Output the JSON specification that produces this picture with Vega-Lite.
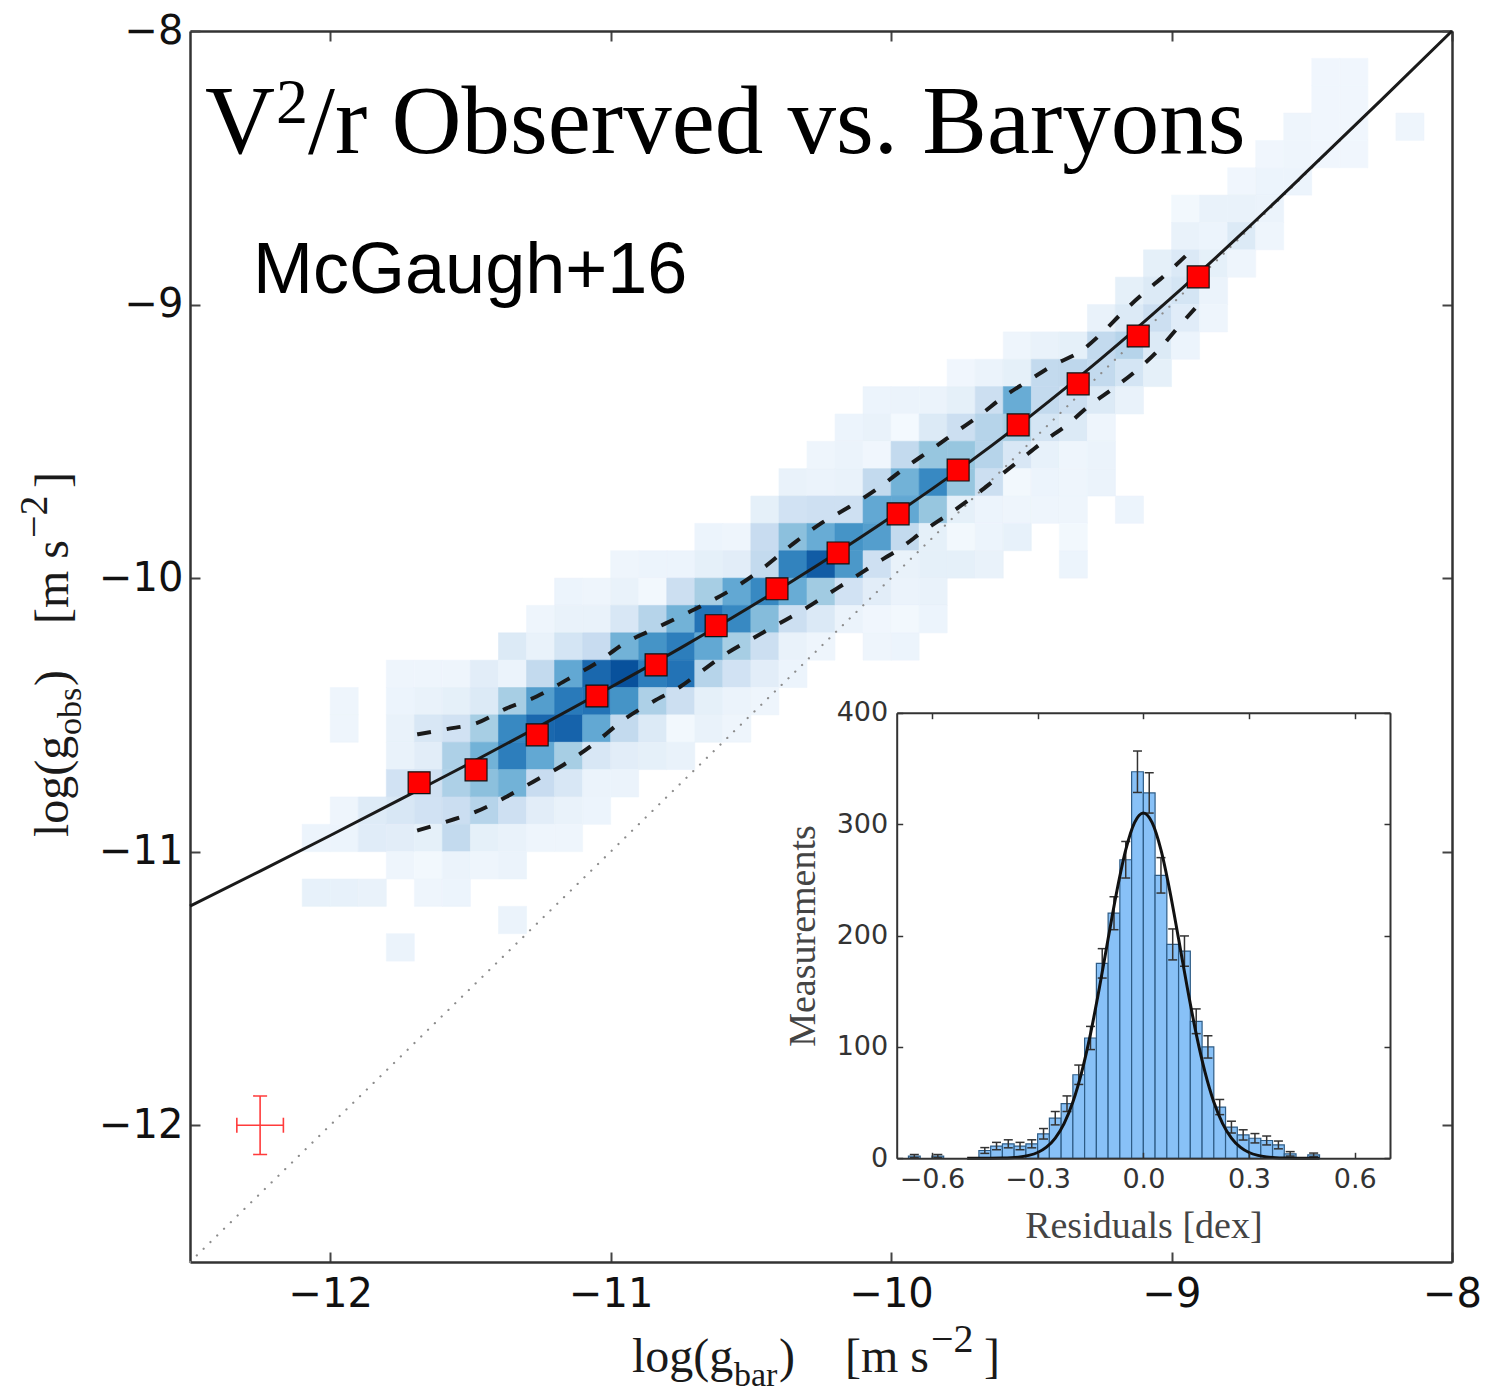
{
"$schema": "https://vega.github.io/schema/vega-lite/v6.json",
"width": 1262, "height": 1231,
"autosize": {"type": "none"},
"padding": {"left": 190, "top": 31, "right": 41, "bottom": 132},
"background": "white",
"config": {"view": {"stroke": null}},
"datasets": {
"heat": [
{"x":-12.1,"xe":-12,"y":-11,"ye":-10.9,"n":0.6},{"x":-12.1,"xe":-12,"y":-11.2,"ye":-11.1,"n":0.9},
{"x":-12,"xe":-11.9,"y":-10.5,"ye":-10.4,"n":0.5},{"x":-12,"xe":-11.9,"y":-10.6,"ye":-10.5,"n":0.5},{"x":-12,"xe":-11.9,"y":-10.9,"ye":-10.8,"n":0.5},{"x":-12,"xe":-11.9,"y":-11,"ye":-10.9,"n":0.6},{"x":-12,"xe":-11.9,"y":-11.2,"ye":-11.1,"n":0.9},
{"x":-11.9,"xe":-11.8,"y":-10.9,"ye":-10.8,"n":1.4},{"x":-11.9,"xe":-11.8,"y":-11,"ye":-10.9,"n":1.3},{"x":-11.9,"xe":-11.8,"y":-11.2,"ye":-11.1,"n":0.8},
{"x":-11.8,"xe":-11.7,"y":-10.4,"ye":-10.3,"n":0.5},{"x":-11.8,"xe":-11.7,"y":-10.5,"ye":-10.4,"n":0.6},{"x":-11.8,"xe":-11.7,"y":-10.6,"ye":-10.5,"n":0.8},{"x":-11.8,"xe":-11.7,"y":-10.7,"ye":-10.6,"n":0.8},{"x":-11.8,"xe":-11.7,"y":-10.8,"ye":-10.7,"n":2.2},{"x":-11.8,"xe":-11.7,"y":-10.9,"ye":-10.8,"n":1.8},{"x":-11.8,"xe":-11.7,"y":-11,"ye":-10.9,"n":1.2},{"x":-11.8,"xe":-11.7,"y":-11.1,"ye":-11,"n":0.5},{"x":-11.8,"xe":-11.7,"y":-11.4,"ye":-11.3,"n":0.7},
{"x":-11.7,"xe":-11.6,"y":-10.4,"ye":-10.3,"n":0.5},{"x":-11.7,"xe":-11.6,"y":-10.5,"ye":-10.4,"n":0.8},{"x":-11.7,"xe":-11.6,"y":-10.6,"ye":-10.5,"n":1.8},{"x":-11.7,"xe":-11.6,"y":-10.7,"ye":-10.6,"n":1.2},{"x":-11.7,"xe":-11.6,"y":-10.8,"ye":-10.7,"n":2.3},{"x":-11.7,"xe":-11.6,"y":-10.9,"ye":-10.8,"n":2.2},{"x":-11.7,"xe":-11.6,"y":-11,"ye":-10.9,"n":1.0},{"x":-11.7,"xe":-11.6,"y":-11.1,"ye":-11,"n":0.3},{"x":-11.7,"xe":-11.6,"y":-11.2,"ye":-11.1,"n":0.5},
{"x":-11.6,"xe":-11.5,"y":-10.4,"ye":-10.3,"n":0.5},{"x":-11.6,"xe":-11.5,"y":-10.5,"ye":-10.4,"n":1.0},{"x":-11.6,"xe":-11.5,"y":-10.6,"ye":-10.5,"n":2.2},{"x":-11.6,"xe":-11.5,"y":-10.7,"ye":-10.6,"n":3.8},{"x":-11.6,"xe":-11.5,"y":-10.8,"ye":-10.7,"n":3.8},{"x":-11.6,"xe":-11.5,"y":-10.9,"ye":-10.8,"n":2.6},{"x":-11.6,"xe":-11.5,"y":-11,"ye":-10.9,"n":3.0},{"x":-11.6,"xe":-11.5,"y":-11.1,"ye":-11,"n":0.7},{"x":-11.6,"xe":-11.5,"y":-11.2,"ye":-11.1,"n":0.6},
{"x":-11.5,"xe":-11.4,"y":-10.4,"ye":-10.3,"n":1.2},{"x":-11.5,"xe":-11.4,"y":-10.5,"ye":-10.4,"n":1.5},{"x":-11.5,"xe":-11.4,"y":-10.6,"ye":-10.5,"n":4.0},{"x":-11.5,"xe":-11.4,"y":-10.7,"ye":-10.6,"n":5.5},{"x":-11.5,"xe":-11.4,"y":-10.8,"ye":-10.7,"n":4.8},{"x":-11.5,"xe":-11.4,"y":-10.9,"ye":-10.8,"n":3.5},{"x":-11.5,"xe":-11.4,"y":-11,"ye":-10.9,"n":1.0},{"x":-11.5,"xe":-11.4,"y":-11.1,"ye":-11,"n":0.5},
{"x":-11.4,"xe":-11.3,"y":-10.3,"ye":-10.2,"n":1.5},{"x":-11.4,"xe":-11.3,"y":-10.4,"ye":-10.3,"n":0.7},{"x":-11.4,"xe":-11.3,"y":-10.5,"ye":-10.4,"n":4.0},{"x":-11.4,"xe":-11.3,"y":-10.6,"ye":-10.5,"n":7.5},{"x":-11.4,"xe":-11.3,"y":-10.7,"ye":-10.6,"n":8.0},{"x":-11.4,"xe":-11.3,"y":-10.8,"ye":-10.7,"n":5.5},{"x":-11.4,"xe":-11.3,"y":-10.9,"ye":-10.8,"n":2.4},{"x":-11.4,"xe":-11.3,"y":-11,"ye":-10.9,"n":0.8},{"x":-11.4,"xe":-11.3,"y":-11.1,"ye":-11,"n":0.7},{"x":-11.4,"xe":-11.3,"y":-11.3,"ye":-11.2,"n":0.7},
{"x":-11.3,"xe":-11.2,"y":-10.2,"ye":-10.1,"n":0.5},{"x":-11.3,"xe":-11.2,"y":-10.3,"ye":-10.2,"n":0.8},{"x":-11.3,"xe":-11.2,"y":-10.4,"ye":-10.3,"n":3.0},{"x":-11.3,"xe":-11.2,"y":-10.5,"ye":-10.4,"n":6.5},{"x":-11.3,"xe":-11.2,"y":-10.6,"ye":-10.5,"n":9.0},{"x":-11.3,"xe":-11.2,"y":-10.7,"ye":-10.6,"n":6.0},{"x":-11.3,"xe":-11.2,"y":-10.8,"ye":-10.7,"n":2.8},{"x":-11.3,"xe":-11.2,"y":-10.9,"ye":-10.8,"n":1.2},{"x":-11.3,"xe":-11.2,"y":-11,"ye":-10.9,"n":0.5},
{"x":-11.2,"xe":-11.1,"y":-10.1,"ye":-10,"n":0.6},{"x":-11.2,"xe":-11.1,"y":-10.2,"ye":-10.1,"n":0.8},{"x":-11.2,"xe":-11.1,"y":-10.3,"ye":-10.2,"n":2.0},{"x":-11.2,"xe":-11.1,"y":-10.4,"ye":-10.3,"n":6.0},{"x":-11.2,"xe":-11.1,"y":-10.5,"ye":-10.4,"n":8.2},{"x":-11.2,"xe":-11.1,"y":-10.6,"ye":-10.5,"n":9.2},{"x":-11.2,"xe":-11.1,"y":-10.7,"ye":-10.6,"n":4.0},{"x":-11.2,"xe":-11.1,"y":-10.8,"ye":-10.7,"n":1.8},{"x":-11.2,"xe":-11.1,"y":-10.9,"ye":-10.8,"n":0.8},{"x":-11.2,"xe":-11.1,"y":-11,"ye":-10.9,"n":0.5},
{"x":-11.1,"xe":-11,"y":-10.1,"ye":-10,"n":0.5},{"x":-11.1,"xe":-11,"y":-10.2,"ye":-10.1,"n":0.8},{"x":-11.1,"xe":-11,"y":-10.3,"ye":-10.2,"n":2.8},{"x":-11.1,"xe":-11,"y":-10.4,"ye":-10.3,"n":9.0},{"x":-11.1,"xe":-11,"y":-10.5,"ye":-10.4,"n":8.5},{"x":-11.1,"xe":-11,"y":-10.6,"ye":-10.5,"n":6.0},{"x":-11.1,"xe":-11,"y":-10.7,"ye":-10.6,"n":1.8},{"x":-11.1,"xe":-11,"y":-10.8,"ye":-10.7,"n":0.7},{"x":-11.1,"xe":-11,"y":-10.9,"ye":-10.8,"n":0.6},
{"x":-11,"xe":-10.9,"y":-10,"ye":-9.9,"n":0.5},{"x":-11,"xe":-10.9,"y":-10.1,"ye":-10,"n":0.8},{"x":-11,"xe":-10.9,"y":-10.2,"ye":-10.1,"n":1.8},{"x":-11,"xe":-10.9,"y":-10.3,"ye":-10.2,"n":5.5},{"x":-11,"xe":-10.9,"y":-10.4,"ye":-10.3,"n":10},{"x":-11,"xe":-10.9,"y":-10.5,"ye":-10.4,"n":7.0},{"x":-11,"xe":-10.9,"y":-10.6,"ye":-10.5,"n":3.0},{"x":-11,"xe":-10.9,"y":-10.7,"ye":-10.6,"n":1.2},{"x":-11,"xe":-10.9,"y":-10.8,"ye":-10.7,"n":0.7},
{"x":-10.9,"xe":-10.8,"y":-10,"ye":-9.9,"n":0.6},{"x":-10.9,"xe":-10.8,"y":-10.1,"ye":-10,"n":0.3},{"x":-10.9,"xe":-10.8,"y":-10.2,"ye":-10.1,"n":3.5},{"x":-10.9,"xe":-10.8,"y":-10.3,"ye":-10.2,"n":7.0},{"x":-10.9,"xe":-10.8,"y":-10.4,"ye":-10.3,"n":8.0},{"x":-10.9,"xe":-10.8,"y":-10.5,"ye":-10.4,"n":3.8},{"x":-10.9,"xe":-10.8,"y":-10.6,"ye":-10.5,"n":1.5},{"x":-10.9,"xe":-10.8,"y":-10.7,"ye":-10.6,"n":1.0},
{"x":-10.8,"xe":-10.7,"y":-10,"ye":-9.9,"n":0.6},{"x":-10.8,"xe":-10.7,"y":-10.1,"ye":-10,"n":2.5},{"x":-10.8,"xe":-10.7,"y":-10.2,"ye":-10.1,"n":5.5},{"x":-10.8,"xe":-10.7,"y":-10.3,"ye":-10.2,"n":8.0},{"x":-10.8,"xe":-10.7,"y":-10.4,"ye":-10.3,"n":8.5},{"x":-10.8,"xe":-10.7,"y":-10.5,"ye":-10.4,"n":2.5},{"x":-10.8,"xe":-10.7,"y":-10.6,"ye":-10.5,"n":0.3},{"x":-10.8,"xe":-10.7,"y":-10.7,"ye":-10.6,"n":0.8},
{"x":-10.7,"xe":-10.6,"y":-9.9,"ye":-9.8,"n":0.6},{"x":-10.7,"xe":-10.6,"y":-10,"ye":-9.9,"n":1.0},{"x":-10.7,"xe":-10.6,"y":-10.1,"ye":-10,"n":4.0},{"x":-10.7,"xe":-10.6,"y":-10.2,"ye":-10.1,"n":8.5},{"x":-10.7,"xe":-10.6,"y":-10.3,"ye":-10.2,"n":6.0},{"x":-10.7,"xe":-10.6,"y":-10.4,"ye":-10.3,"n":3.5},{"x":-10.7,"xe":-10.6,"y":-10.5,"ye":-10.4,"n":1.0},{"x":-10.7,"xe":-10.6,"y":-10.6,"ye":-10.5,"n":0.8},
{"x":-10.6,"xe":-10.5,"y":-9.9,"ye":-9.8,"n":0.5},{"x":-10.6,"xe":-10.5,"y":-10,"ye":-9.9,"n":1.2},{"x":-10.6,"xe":-10.5,"y":-10.1,"ye":-10,"n":6.0},{"x":-10.6,"xe":-10.5,"y":-10.2,"ye":-10.1,"n":7.5},{"x":-10.6,"xe":-10.5,"y":-10.3,"ye":-10.2,"n":4.0},{"x":-10.6,"xe":-10.5,"y":-10.4,"ye":-10.3,"n":2.2},{"x":-10.6,"xe":-10.5,"y":-10.5,"ye":-10.4,"n":0.7},{"x":-10.6,"xe":-10.5,"y":-10.6,"ye":-10.5,"n":0.5},
{"x":-10.5,"xe":-10.4,"y":-9.8,"ye":-9.7,"n":1.0},{"x":-10.5,"xe":-10.4,"y":-9.9,"ye":-9.8,"n":2.8},{"x":-10.5,"xe":-10.4,"y":-10,"ye":-9.9,"n":3.0},{"x":-10.5,"xe":-10.4,"y":-10.1,"ye":-10,"n":7.5},{"x":-10.5,"xe":-10.4,"y":-10.2,"ye":-10.1,"n":5.0},{"x":-10.5,"xe":-10.4,"y":-10.3,"ye":-10.2,"n":2.5},{"x":-10.5,"xe":-10.4,"y":-10.4,"ye":-10.3,"n":1.2},{"x":-10.5,"xe":-10.4,"y":-10.5,"ye":-10.4,"n":0.5},
{"x":-10.4,"xe":-10.3,"y":-9.7,"ye":-9.6,"n":0.8},{"x":-10.4,"xe":-10.3,"y":-9.8,"ye":-9.7,"n":2.2},{"x":-10.4,"xe":-10.3,"y":-9.9,"ye":-9.8,"n":4.8},{"x":-10.4,"xe":-10.3,"y":-10,"ye":-9.9,"n":7.8},{"x":-10.4,"xe":-10.3,"y":-10.1,"ye":-10,"n":5.8},{"x":-10.4,"xe":-10.3,"y":-10.2,"ye":-10.1,"n":2.5},{"x":-10.4,"xe":-10.3,"y":-10.3,"ye":-10.2,"n":0.8},{"x":-10.4,"xe":-10.3,"y":-10.4,"ye":-10.3,"n":0.6},
{"x":-10.3,"xe":-10.2,"y":-9.6,"ye":-9.5,"n":0.5},{"x":-10.3,"xe":-10.2,"y":-9.7,"ye":-9.6,"n":0.7},{"x":-10.3,"xe":-10.2,"y":-9.8,"ye":-9.7,"n":2.4},{"x":-10.3,"xe":-10.2,"y":-9.9,"ye":-9.8,"n":5.8},{"x":-10.3,"xe":-10.2,"y":-10,"ye":-9.9,"n":9.5},{"x":-10.3,"xe":-10.2,"y":-10.1,"ye":-10,"n":4.2},{"x":-10.3,"xe":-10.2,"y":-10.2,"ye":-10.1,"n":1.6},{"x":-10.3,"xe":-10.2,"y":-10.3,"ye":-10.2,"n":0.5},
{"x":-10.2,"xe":-10.1,"y":-9.5,"ye":-9.4,"n":0.6},{"x":-10.2,"xe":-10.1,"y":-9.6,"ye":-9.5,"n":0.7},{"x":-10.2,"xe":-10.1,"y":-9.7,"ye":-9.6,"n":0.8},{"x":-10.2,"xe":-10.1,"y":-9.8,"ye":-9.7,"n":2.4},{"x":-10.2,"xe":-10.1,"y":-9.9,"ye":-9.8,"n":7.0},{"x":-10.2,"xe":-10.1,"y":-10,"ye":-9.9,"n":6.8},{"x":-10.2,"xe":-10.1,"y":-10.1,"ye":-10,"n":2.2},{"x":-10.2,"xe":-10.1,"y":-10.2,"ye":-10.1,"n":0.7},
{"x":-10.1,"xe":-10,"y":-9.4,"ye":-9.3,"n":0.6},{"x":-10.1,"xe":-10,"y":-9.5,"ye":-9.4,"n":0.8},{"x":-10.1,"xe":-10,"y":-9.6,"ye":-9.5,"n":0.4},{"x":-10.1,"xe":-10,"y":-9.7,"ye":-9.6,"n":3.0},{"x":-10.1,"xe":-10,"y":-9.8,"ye":-9.7,"n":6.0},{"x":-10.1,"xe":-10,"y":-9.9,"ye":-9.8,"n":6.5},{"x":-10.1,"xe":-10,"y":-10,"ye":-9.9,"n":2.4},{"x":-10.1,"xe":-10,"y":-10.1,"ye":-10,"n":1.2},{"x":-10.1,"xe":-10,"y":-10.2,"ye":-10.1,"n":0.4},{"x":-10.1,"xe":-10,"y":-10.3,"ye":-10.2,"n":0.5},
{"x":-10,"xe":-9.9,"y":-9.4,"ye":-9.3,"n":0.7},{"x":-10,"xe":-9.9,"y":-9.5,"ye":-9.4,"n":0.2},{"x":-10,"xe":-9.9,"y":-9.6,"ye":-9.5,"n":3.0},{"x":-10,"xe":-9.9,"y":-9.7,"ye":-9.6,"n":5.5},{"x":-10,"xe":-9.9,"y":-9.8,"ye":-9.7,"n":6.0},{"x":-10,"xe":-9.9,"y":-9.9,"ye":-9.8,"n":3.0},{"x":-10,"xe":-9.9,"y":-10,"ye":-9.9,"n":0.8},{"x":-10,"xe":-9.9,"y":-10.1,"ye":-10,"n":0.7},{"x":-10,"xe":-9.9,"y":-10.2,"ye":-10.1,"n":0.3},{"x":-10,"xe":-9.9,"y":-10.3,"ye":-10.2,"n":0.6},
{"x":-9.9,"xe":-9.8,"y":-9.4,"ye":-9.3,"n":0.7},{"x":-9.9,"xe":-9.8,"y":-9.5,"ye":-9.4,"n":1.5},{"x":-9.9,"xe":-9.8,"y":-9.6,"ye":-9.5,"n":4.5},{"x":-9.9,"xe":-9.8,"y":-9.7,"ye":-9.6,"n":7.5},{"x":-9.9,"xe":-9.8,"y":-9.8,"ye":-9.7,"n":4.5},{"x":-9.9,"xe":-9.8,"y":-9.9,"ye":-9.8,"n":1.0},{"x":-9.9,"xe":-9.8,"y":-10,"ye":-9.9,"n":1.0},{"x":-9.9,"xe":-9.8,"y":-10.1,"ye":-10,"n":0.8},{"x":-9.9,"xe":-9.8,"y":-10.2,"ye":-10.1,"n":0.6},
{"x":-9.8,"xe":-9.7,"y":-9.3,"ye":-9.2,"n":0.4},{"x":-9.8,"xe":-9.7,"y":-9.4,"ye":-9.3,"n":1.0},{"x":-9.8,"xe":-9.7,"y":-9.5,"ye":-9.4,"n":2.5},{"x":-9.8,"xe":-9.7,"y":-9.6,"ye":-9.5,"n":4.5},{"x":-9.8,"xe":-9.7,"y":-9.7,"ye":-9.6,"n":4.5},{"x":-9.8,"xe":-9.7,"y":-9.8,"ye":-9.7,"n":1.0},{"x":-9.8,"xe":-9.7,"y":-9.9,"ye":-9.8,"n":0.3},{"x":-9.8,"xe":-9.7,"y":-10,"ye":-9.9,"n":1.0},
{"x":-9.7,"xe":-9.6,"y":-9.3,"ye":-9.2,"n":0.7},{"x":-9.7,"xe":-9.6,"y":-9.4,"ye":-9.3,"n":2.5},{"x":-9.7,"xe":-9.6,"y":-9.5,"ye":-9.4,"n":3.5},{"x":-9.7,"xe":-9.6,"y":-9.6,"ye":-9.5,"n":3.5},{"x":-9.7,"xe":-9.6,"y":-9.7,"ye":-9.6,"n":2.5},{"x":-9.7,"xe":-9.6,"y":-9.8,"ye":-9.7,"n":0.6},{"x":-9.7,"xe":-9.6,"y":-9.9,"ye":-9.8,"n":0.6},{"x":-9.7,"xe":-9.6,"y":-10,"ye":-9.9,"n":0.8},
{"x":-9.6,"xe":-9.5,"y":-9.2,"ye":-9.1,"n":0.5},{"x":-9.6,"xe":-9.5,"y":-9.3,"ye":-9.2,"n":1.0},{"x":-9.6,"xe":-9.5,"y":-9.4,"ye":-9.3,"n":5.8},{"x":-9.6,"xe":-9.5,"y":-9.5,"ye":-9.4,"n":4.0},{"x":-9.6,"xe":-9.5,"y":-9.6,"ye":-9.5,"n":1.8},{"x":-9.6,"xe":-9.5,"y":-9.7,"ye":-9.6,"n":0.3},{"x":-9.6,"xe":-9.5,"y":-9.8,"ye":-9.7,"n":0.5},{"x":-9.6,"xe":-9.5,"y":-9.9,"ye":-9.8,"n":0.9},
{"x":-9.5,"xe":-9.4,"y":-9.2,"ye":-9.1,"n":0.8},{"x":-9.5,"xe":-9.4,"y":-9.3,"ye":-9.2,"n":3.0},{"x":-9.5,"xe":-9.4,"y":-9.4,"ye":-9.3,"n":3.0},{"x":-9.5,"xe":-9.4,"y":-9.5,"ye":-9.4,"n":2.0},{"x":-9.5,"xe":-9.4,"y":-9.6,"ye":-9.5,"n":0.9},{"x":-9.5,"xe":-9.4,"y":-9.7,"ye":-9.6,"n":0.6},{"x":-9.5,"xe":-9.4,"y":-9.8,"ye":-9.7,"n":0.5},
{"x":-9.4,"xe":-9.3,"y":-9.2,"ye":-9.1,"n":1.0},{"x":-9.4,"xe":-9.3,"y":-9.3,"ye":-9.2,"n":3.2},{"x":-9.4,"xe":-9.3,"y":-9.4,"ye":-9.3,"n":2.5},{"x":-9.4,"xe":-9.3,"y":-9.5,"ye":-9.4,"n":1.5},{"x":-9.4,"xe":-9.3,"y":-9.6,"ye":-9.5,"n":0.5},{"x":-9.4,"xe":-9.3,"y":-9.7,"ye":-9.6,"n":0.5},{"x":-9.4,"xe":-9.3,"y":-9.8,"ye":-9.7,"n":0.5},{"x":-9.4,"xe":-9.3,"y":-9.9,"ye":-9.8,"n":0.3},{"x":-9.4,"xe":-9.3,"y":-10,"ye":-9.9,"n":0.6},
{"x":-9.3,"xe":-9.2,"y":-9.1,"ye":-9,"n":0.8},{"x":-9.3,"xe":-9.2,"y":-9.2,"ye":-9.1,"n":3.0},{"x":-9.3,"xe":-9.2,"y":-9.3,"ye":-9.2,"n":3.0},{"x":-9.3,"xe":-9.2,"y":-9.4,"ye":-9.3,"n":1.5},{"x":-9.3,"xe":-9.2,"y":-9.5,"ye":-9.4,"n":0.5},{"x":-9.3,"xe":-9.2,"y":-9.6,"ye":-9.5,"n":0.7},{"x":-9.3,"xe":-9.2,"y":-9.7,"ye":-9.6,"n":0.7},
{"x":-9.2,"xe":-9.1,"y":-9,"ye":-8.9,"n":1.0},{"x":-9.2,"xe":-9.1,"y":-9.1,"ye":-9,"n":1.5},{"x":-9.2,"xe":-9.1,"y":-9.2,"ye":-9.1,"n":3.5},{"x":-9.2,"xe":-9.1,"y":-9.3,"ye":-9.2,"n":2.0},{"x":-9.2,"xe":-9.1,"y":-9.4,"ye":-9.3,"n":0.8},{"x":-9.2,"xe":-9.1,"y":-9.8,"ye":-9.7,"n":0.6},
{"x":-9.1,"xe":-9,"y":-8.9,"ye":-8.8,"n":1.0},{"x":-9.1,"xe":-9,"y":-9,"ye":-8.9,"n":1.5},{"x":-9.1,"xe":-9,"y":-9.1,"ye":-9,"n":2.5},{"x":-9.1,"xe":-9,"y":-9.2,"ye":-9.1,"n":1.5},{"x":-9.1,"xe":-9,"y":-9.3,"ye":-9.2,"n":1.0},
{"x":-9,"xe":-8.9,"y":-8.7,"ye":-8.6,"n":0.3},{"x":-9,"xe":-8.9,"y":-8.8,"ye":-8.7,"n":0.8},{"x":-9,"xe":-8.9,"y":-8.9,"ye":-8.8,"n":1.6},{"x":-9,"xe":-8.9,"y":-9,"ye":-8.9,"n":2.0},{"x":-9,"xe":-8.9,"y":-9.1,"ye":-9,"n":1.3},{"x":-9,"xe":-8.9,"y":-9.2,"ye":-9.1,"n":0.6},
{"x":-8.9,"xe":-8.8,"y":-8.7,"ye":-8.6,"n":0.8},{"x":-8.9,"xe":-8.8,"y":-8.8,"ye":-8.7,"n":0.6},{"x":-8.9,"xe":-8.8,"y":-8.9,"ye":-8.8,"n":1.0},{"x":-8.9,"xe":-8.8,"y":-9,"ye":-8.9,"n":0.7},{"x":-8.9,"xe":-8.8,"y":-9.1,"ye":-9,"n":0.5},
{"x":-8.8,"xe":-8.7,"y":-8.6,"ye":-8.5,"n":0.4},{"x":-8.8,"xe":-8.7,"y":-8.7,"ye":-8.6,"n":0.8},{"x":-8.8,"xe":-8.7,"y":-8.8,"ye":-8.7,"n":1.5},{"x":-8.8,"xe":-8.7,"y":-8.9,"ye":-8.8,"n":0.5},
{"x":-8.7,"xe":-8.6,"y":-8.5,"ye":-8.4,"n":0.4},{"x":-8.7,"xe":-8.6,"y":-8.6,"ye":-8.5,"n":0.6},{"x":-8.7,"xe":-8.6,"y":-8.7,"ye":-8.6,"n":0.7},{"x":-8.7,"xe":-8.6,"y":-8.8,"ye":-8.7,"n":0.5},
{"x":-8.6,"xe":-8.5,"y":-8.4,"ye":-8.3,"n":0.5},{"x":-8.6,"xe":-8.5,"y":-8.5,"ye":-8.4,"n":0.5},{"x":-8.6,"xe":-8.5,"y":-8.6,"ye":-8.5,"n":0.6},
{"x":-8.5,"xe":-8.4,"y":-8.2,"ye":-8.1,"n":0.4},{"x":-8.5,"xe":-8.4,"y":-8.3,"ye":-8.2,"n":0.4},{"x":-8.5,"xe":-8.4,"y":-8.4,"ye":-8.3,"n":0.4},{"x":-8.5,"xe":-8.4,"y":-8.5,"ye":-8.4,"n":0.4},
{"x":-8.4,"xe":-8.3,"y":-8.2,"ye":-8.1,"n":0.4},{"x":-8.4,"xe":-8.3,"y":-8.3,"ye":-8.2,"n":0.4},{"x":-8.4,"xe":-8.3,"y":-8.4,"ye":-8.3,"n":0.4},{"x":-8.4,"xe":-8.3,"y":-8.5,"ye":-8.4,"n":0.4},
{"x":-8.2,"xe":-8.1,"y":-8.4,"ye":-8.3,"n":0.5}
],
"one2one": [{"x":-12.5,"y":-12.5},{"x":-8,"y":-8}],
"rar": [{"x":-12.5,"y":-11.199},{"x":-12.25,"y":-11.071},{"x":-12,"y":-10.941},{"x":-11.75,"y":-10.809},{"x":-11.5,"y":-10.676},{"x":-11.25,"y":-10.539},{"x":-11,"y":-10.399},{"x":-10.75,"y":-10.255},{"x":-10.5,"y":-10.104},{"x":-10.25,"y":-9.945},{"x":-10,"y":-9.777},{"x":-9.75,"y":-9.598},{"x":-9.5,"y":-9.405},{"x":-9.25,"y":-9.197},{"x":-9,"y":-8.975},{"x":-8.75,"y":-8.741},{"x":-8.5,"y":-8.497},{"x":-8.25,"y":-8.25},{"x":-8,"y":-8}],
"dashed": [
{"s":"up","x":-11.69,"y":-10.571},{"s":"up","x":-11.585,"y":-10.552},{"s":"up","x":-11.478,"y":-10.53},{"s":"up","x":-11.371,"y":-10.476},{"s":"up","x":-11.264,"y":-10.433},{"s":"up","x":-11.157,"y":-10.372},{"s":"up","x":-11.05,"y":-10.31},{"s":"up","x":-10.95,"y":-10.238},{"s":"up","x":-10.85,"y":-10.188},{"s":"up","x":-10.75,"y":-10.139},{"s":"up","x":-10.65,"y":-10.088},{"s":"up","x":-10.55,"y":-10.03},{"s":"up","x":-10.45,"y":-9.958},{"s":"up","x":-10.35,"y":-9.875},{"s":"up","x":-10.25,"y":-9.8},{"s":"up","x":-10.15,"y":-9.74},{"s":"up","x":-10.05,"y":-9.674},{"s":"up","x":-9.944,"y":-9.592},{"s":"up","x":-9.849,"y":-9.525},{"s":"up","x":-9.766,"y":-9.464},{"s":"up","x":-9.683,"y":-9.404},{"s":"up","x":-9.599,"y":-9.337},{"s":"up","x":-9.516,"y":-9.282},{"s":"up","x":-9.421,"y":-9.221},{"s":"up","x":-9.326,"y":-9.172},{"s":"up","x":-9.243,"y":-9.099},{"s":"up","x":-9.172,"y":-9.026},{"s":"up","x":-9.1,"y":-8.959},{"s":"up","x":-9.017,"y":-8.886},{"s":"up","x":-8.934,"y":-8.807},
{"s":"lo","x":-11.69,"y":-10.923},{"s":"lo","x":-11.585,"y":-10.89},{"s":"lo","x":-11.478,"y":-10.853},{"s":"lo","x":-11.371,"y":-10.799},{"s":"lo","x":-11.276,"y":-10.744},{"s":"lo","x":-11.169,"y":-10.683},{"s":"lo","x":-11.073,"y":-10.616},{"s":"lo","x":-10.943,"y":-10.51},{"s":"lo","x":-10.848,"y":-10.451},{"s":"lo","x":-10.752,"y":-10.397},{"s":"lo","x":-10.669,"y":-10.335},{"s":"lo","x":-10.586,"y":-10.275},{"s":"lo","x":-10.503,"y":-10.226},{"s":"lo","x":-10.408,"y":-10.171},{"s":"lo","x":-10.313,"y":-10.116},{"s":"lo","x":-10.229,"y":-10.061},{"s":"lo","x":-10.146,"y":-10.007},{"s":"lo","x":-10.063,"y":-9.952},{"s":"lo","x":-9.968,"y":-9.891},{"s":"lo","x":-9.879,"y":-9.824},{"s":"lo","x":-9.79,"y":-9.763},{"s":"lo","x":-9.706,"y":-9.702},{"s":"lo","x":-9.623,"y":-9.635},{"s":"lo","x":-9.54,"y":-9.568},{"s":"lo","x":-9.457,"y":-9.501},{"s":"lo","x":-9.373,"y":-9.44},{"s":"lo","x":-9.29,"y":-9.367},{"s":"lo","x":-9.207,"y":-9.306},{"s":"lo","x":-9.13,"y":-9.245},{"s":"lo","x":-9.05,"y":-9.17},{"s":"lo","x":-8.975,"y":-9.081},{"s":"lo","x":-8.916,"y":-9.014}
],
"squares": [{"x":-11.683,"y":-10.748},{"x":-11.48,"y":-10.701},{"x":-11.262,"y":-10.573},{"x":-11.049,"y":-10.431},{"x":-10.838,"y":-10.317},{"x":-10.624,"y":-10.174},{"x":-10.407,"y":-10.039},{"x":-10.189,"y":-9.908},{"x":-9.975,"y":-9.765},{"x":-9.761,"y":-9.605},{"x":-9.547,"y":-9.44},{"x":-9.333,"y":-9.29},{"x":-9.119,"y":-9.115},{"x":-8.905,"y":-8.899}],
"cross": [{"seg":"h","x":-12.333,"y":-12},{"seg":"h","x":-12.167,"y":-12},{"seg":"v","x":-12.25,"y":-12.107},{"seg":"v","x":-12.25,"y":-11.893}],
"capsV": [{"x":-12.333,"y":-12},{"x":-12.167,"y":-12}],
"capsH": [{"x":-12.25,"y":-12.107},{"x":-12.25,"y":-11.893}],
"titleMain": [{"t":"V","x":-12.4465,"y":-8.446},{"t":"/r Observed vs. Baryons","x":-12.0792,"y":-8.446}],
"titleSup": [{"t":"2","x":-12.1933,"y":-8.446}],
"mcg": [{"t":"McGaugh+16","x":-12.275,"y":-8.958}],
"xtMain": [{"t":"log(g","x":-10.9239,"y":-12.902},{"t":")","x":-10.3997,"y":-12.902},{"t":"[m s","x":-10.1644,"y":-12.902},{"t":"]","x":-9.6688,"y":-12.902}],
"xtSub": [{"t":"bar","x":-10.5602,"y":-12.902}],
"xtSup": [{"t":"−2","x":-9.8577,"y":-12.902}],
"ytMain": [{"t":"log(g","x":-12.935,"y":-10.9463},{"t":")","x":-12.935,"y":-10.3944},{"t":"[m s","x":-12.935,"y":-10.1677},{"t":"]","x":-12.935,"y":-9.6706}],
"ytSub": [{"t":"obs","x":-12.935,"y":-10.5735}],
"ytSup": [{"t":"−2","x":-12.935,"y":-9.8533}],
"hist": [
{"x":-0.6667,"xe":-0.6333,"c":-0.65,"y":2,"lo":0.6,"hi":3.4},
{"x":-0.6,"xe":-0.5667,"c":-0.5833,"y":2,"lo":0.6,"hi":3.4},
{"x":-0.4667,"xe":-0.4333,"c":-0.45,"y":7,"lo":4.4,"hi":9.6},
{"x":-0.4333,"xe":-0.4,"c":-0.4167,"y":11,"lo":7.7,"hi":14.3},
{"x":-0.4,"xe":-0.3667,"c":-0.3833,"y":13,"lo":9.4,"hi":16.6},
{"x":-0.3667,"xe":-0.3333,"c":-0.35,"y":11,"lo":7.7,"hi":14.3},
{"x":-0.3333,"xe":-0.3,"c":-0.3167,"y":13,"lo":9.4,"hi":16.6},
{"x":-0.3,"xe":-0.2667,"c":-0.2833,"y":22,"lo":17.3,"hi":26.7},
{"x":-0.2667,"xe":-0.2333,"c":-0.25,"y":36,"lo":30,"hi":42},
{"x":-0.2333,"xe":-0.2,"c":-0.2167,"y":49,"lo":42,"hi":56},
{"x":-0.2,"xe":-0.1667,"c":-0.1833,"y":75,"lo":66.3,"hi":83.7},
{"x":-0.1667,"xe":-0.1333,"c":-0.15,"y":108,"lo":97.6,"hi":118.4},
{"x":-0.1333,"xe":-0.1,"c":-0.1167,"y":175,"lo":161.8,"hi":188.2},
{"x":-0.1,"xe":-0.0667,"c":-0.0833,"y":220,"lo":205.2,"hi":234.8},
{"x":-0.0667,"xe":-0.0333,"c":-0.05,"y":268,"lo":251.6,"hi":284.4},
{"x":-0.0333,"xe":0,"c":-0.0167,"y":347,"lo":328.4,"hi":365.6},
{"x":0,"xe":0.0333,"c":0.0167,"y":328,"lo":309.9,"hi":346.1},
{"x":0.0333,"xe":0.0667,"c":0.05,"y":254,"lo":238.1,"hi":269.9},
{"x":0.0667,"xe":0.1,"c":0.0833,"y":192,"lo":178.1,"hi":205.9},
{"x":0.1,"xe":0.1333,"c":0.1167,"y":186,"lo":172.4,"hi":199.6},
{"x":0.1333,"xe":0.1667,"c":0.15,"y":123,"lo":111.9,"hi":134.1},
{"x":0.1667,"xe":0.2,"c":0.1833,"y":100,"lo":90,"hi":110},
{"x":0.2,"xe":0.2333,"c":0.2167,"y":46,"lo":39.2,"hi":52.8},
{"x":0.2333,"xe":0.2667,"c":0.25,"y":28,"lo":22.7,"hi":33.3},
{"x":0.2667,"xe":0.3,"c":0.2833,"y":21,"lo":16.4,"hi":25.6},
{"x":0.3,"xe":0.3333,"c":0.3167,"y":18,"lo":13.8,"hi":22.2},
{"x":0.3333,"xe":0.3667,"c":0.35,"y":16,"lo":12,"hi":20},
{"x":0.3667,"xe":0.4,"c":0.3833,"y":12,"lo":8.5,"hi":15.5},
{"x":0.4,"xe":0.4333,"c":0.4167,"y":4,"lo":2,"hi":6},
{"x":0.4667,"xe":0.5,"c":0.4833,"y":3,"lo":1.3,"hi":4.7}
],
"gauss": [{"x":-0.5,"y":0},{"x":-0.45,"y":0.03},{"x":-0.4,"y":0.2},{"x":-0.375,"y":0.5},{"x":-0.35,"y":1.2},{"x":-0.325,"y":2.6},{"x":-0.3,"y":5.2},{"x":-0.275,"y":10},{"x":-0.25,"y":18.2},{"x":-0.225,"y":31.2},{"x":-0.2,"y":50.5},{"x":-0.175,"y":77.3},{"x":-0.15,"y":111.7},{"x":-0.125,"y":152.6},{"x":-0.1,"y":197},{"x":-0.075,"y":240.2},{"x":-0.05,"y":276.8},{"x":-0.025,"y":301.3},{"x":0,"y":310},{"x":0.025,"y":301.3},{"x":0.05,"y":276.8},{"x":0.075,"y":240.2},{"x":0.1,"y":197},{"x":0.125,"y":152.6},{"x":0.15,"y":111.7},{"x":0.175,"y":77.3},{"x":0.2,"y":50.5},{"x":0.225,"y":31.2},{"x":0.25,"y":18.2},{"x":0.275,"y":10},{"x":0.3,"y":5.2},{"x":0.325,"y":2.6},{"x":0.35,"y":1.2},{"x":0.375,"y":0.5},{"x":0.4,"y":0.2},{"x":0.45,"y":0.03},{"x":0.5,"y":0}]
},
"resolve": {"scale": {"x": "independent", "y": "independent"}},
"layer": [
{
"encoding": {
"x": {"field": "x", "type": "quantitative", "scale": {"domain": [-12.5, -8], "nice": false, "zero": false},
 "axis": {"orient": "bottom", "values": [-12, -11, -10, -9, -8], "format": "d", "labelFont": "DejaVu Sans", "labelFontSize": 40, "labelColor": "#111", "tickSize": -10, "tickWidth": 2, "tickColor": "#444", "domainColor": "#333", "domainWidth": 2.5, "labelPadding": 22, "title": null, "grid": false, "labelFlush": false, "labelOverlap": false}},
"y": {"field": "y", "type": "quantitative", "scale": {"domain": [-12.5, -8], "nice": false, "zero": false},
 "axis": {"orient": "left", "values": [-12, -11, -10, -9, -8], "format": "d", "labelFont": "DejaVu Sans", "labelFontSize": 40, "labelColor": "#111", "tickSize": -10, "tickWidth": 2, "tickColor": "#444", "domainColor": "#333", "domainWidth": 2.5, "labelPadding": 17, "title": null, "grid": false, "labelFlush": false, "labelOverlap": false}}
},
"layer": [
{"data": {"name": "heat"}, "mark": {"type": "rect", "strokeWidth": 0.6},
 "encoding": {"x2": {"field": "xe"}, "y2": {"field": "ye"},
  "color": {"field": "n", "type": "quantitative", "scale": {"domain": [0, 1.4, 2.9, 4.3, 5.7, 7.1, 8.6, 10], "range": ["#f7fbff", "#deebf7", "#c6dbef", "#9ecae1", "#6baed6", "#4292c6", "#2171b5", "#08519c"]}, "legend": null},
  "stroke": {"field": "n", "type": "quantitative", "scale": {"domain": [0, 1.4, 2.9, 4.3, 5.7, 7.1, 8.6, 10], "range": ["#f7fbff", "#deebf7", "#c6dbef", "#9ecae1", "#6baed6", "#4292c6", "#2171b5", "#08519c"]}, "legend": null}}},
{"data": {"name": "one2one"}, "mark": {"type": "line", "color": "#8c8c8c", "strokeWidth": 2.2, "strokeDash": [0.1, 9.4], "strokeCap": "round"}, "encoding": {}},
{"data": {"name": "rar"}, "mark": {"type": "line", "color": "#1a1a1a", "strokeWidth": 3, "interpolate": "monotone"}, "encoding": {}},
{"data": {"name": "dashed"}, "mark": {"type": "line", "color": "#1a1a1a", "strokeWidth": 4, "strokeDash": [14, 16], "interpolate": "monotone"}, "encoding": {"detail": {"field": "s"}}},
{"data": {"name": "squares"}, "mark": {"type": "square", "size": 480, "filled": true, "fill": "#ff0000", "color": "#ff0000", "stroke": "#111", "strokeWidth": 1.2, "opacity": 1}},
{"data": {"name": "cross"}, "mark": {"type": "line", "color": "#ff3b3b", "strokeWidth": 1.6}, "encoding": {"detail": {"field": "seg"}}},
{"data": {"name": "capsV"}, "mark": {"type": "tick", "orient": "vertical", "size": 15, "thickness": 1.6, "color": "#ff3b3b", "opacity": 1}},
{"data": {"name": "capsH"}, "mark": {"type": "tick", "orient": "horizontal", "size": 14, "thickness": 1.6, "color": "#ff3b3b", "opacity": 1}},
{"data": {"name": "titleMain"}, "mark": {"type": "text", "font": "Liberation Serif", "fontSize": 97, "align": "left", "baseline": "alphabetic", "color": "#000"}, "encoding": {"text": {"field": "t"}}},
{"data": {"name": "titleSup"}, "mark": {"type": "text", "font": "Liberation Serif", "fontSize": 64, "align": "left", "baseline": "alphabetic", "dy": -30, "color": "#000"}, "encoding": {"text": {"field": "t"}}},
{"data": {"name": "mcg"}, "mark": {"type": "text", "font": "Liberation Sans", "fontSize": 72, "align": "left", "baseline": "alphabetic", "color": "#000"}, "encoding": {"text": {"field": "t"}}},
{"data": {"name": "xtMain"}, "mark": {"type": "text", "font": "Liberation Serif", "fontSize": 48, "align": "left", "baseline": "alphabetic", "color": "#1a1a1a"}, "encoding": {"text": {"field": "t"}}},
{"data": {"name": "xtSub"}, "mark": {"type": "text", "font": "Liberation Serif", "fontSize": 34, "align": "left", "baseline": "alphabetic", "dy": 14, "color": "#1a1a1a"}, "encoding": {"text": {"field": "t"}}},
{"data": {"name": "xtSup"}, "mark": {"type": "text", "font": "Liberation Serif", "fontSize": 40, "align": "left", "baseline": "alphabetic", "dy": -20, "color": "#1a1a1a"}, "encoding": {"text": {"field": "t"}}},
{"data": {"name": "ytMain"}, "mark": {"type": "text", "font": "Liberation Serif", "fontSize": 48, "align": "left", "baseline": "alphabetic", "angle": 270, "color": "#1a1a1a"}, "encoding": {"text": {"field": "t"}}},
{"data": {"name": "ytSub"}, "mark": {"type": "text", "font": "Liberation Serif", "fontSize": 34, "align": "left", "baseline": "alphabetic", "angle": 270, "dy": 13, "color": "#1a1a1a"}, "encoding": {"text": {"field": "t"}}},
{"data": {"name": "ytSup"}, "mark": {"type": "text", "font": "Liberation Serif", "fontSize": 40, "align": "left", "baseline": "alphabetic", "angle": 270, "dy": -21, "color": "#1a1a1a"}, "encoding": {"text": {"field": "t"}}}
]
},
{
"data": {"values": [{}]},
"mark": {"type": "point", "opacity": 0},
"encoding": {
"x": {"datum": -10, "type": "quantitative", "scale": {"domain": [-12.5, -8], "nice": false, "zero": false},
 "axis": {"orient": "top", "values": [-12, -11, -10, -9, -8], "labels": false, "tickSize": -10, "tickWidth": 2, "tickColor": "#444", "domainColor": "#333", "domainWidth": 2.5, "title": null, "grid": false}},
"y": {"datum": -10, "type": "quantitative", "scale": {"domain": [-12.5, -8], "nice": false, "zero": false},
 "axis": {"orient": "right", "values": [-12, -11, -10, -9, -8], "labels": false, "tickSize": -10, "tickWidth": 2, "tickColor": "#444", "domainColor": "#333", "domainWidth": 2.5, "title": null, "grid": false}}
}
},
{
"encoding": {
"x": {"field": "x", "type": "quantitative", "scale": {"domain": [-0.7, 0.7], "range": [706.7, 1200], "nice": false, "zero": false},
 "axis": {"orient": "bottom", "offset": -103.7, "values": [-0.6, -0.3, 0, 0.3, 0.6], "format": ".1f", "labelFont": "DejaVu Sans", "labelFontSize": 27, "labelColor": "#333", "tickSize": -6, "tickWidth": 1.5, "tickColor": "#333", "domainColor": "#333", "domainWidth": 2, "labelPadding": 14, "title": "Residuals [dex]", "titleFont": "Liberation Serif", "titleFontSize": 38, "titleFontWeight": "normal", "titleColor": "#444", "titlePadding": 15, "grid": false, "labelFlush": false, "labelOverlap": false, "zindex": 1}},
"y": {"field": "y", "type": "quantitative", "scale": {"domain": [0, 400], "range": [1127.3, 681.7], "nice": false, "zero": false},
 "axis": {"orient": "left", "offset": -706.7, "values": [0, 100, 200, 300, 400], "format": "d", "labelFont": "DejaVu Sans", "labelFontSize": 27, "labelColor": "#333", "tickSize": -6, "tickWidth": 1.5, "tickColor": "#333", "domainColor": "#333", "domainWidth": 2, "labelPadding": 15, "title": "Measurements", "titleFont": "Liberation Serif", "titleFontSize": 38, "titleFontWeight": "normal", "titleColor": "#444", "titlePadding": 14, "grid": false, "labelFlush": false, "labelOverlap": false, "zindex": 1}}
},
"layer": [
{"data": {"name": "hist"}, "mark": {"type": "rect", "fill": "#88c1f7", "stroke": "#2e5c86", "strokeWidth": 1.2}, "encoding": {"x2": {"field": "xe"}, "y2": {"datum": 0}}},
{"data": {"name": "hist"}, "mark": {"type": "rule", "color": "#333", "strokeWidth": 1.5},
 "encoding": {"x": {"field": "c", "type": "quantitative", "scale": {"domain": [-0.7, 0.7], "range": [706.7, 1200], "nice": false, "zero": false}}, "y": {"field": "lo", "type": "quantitative", "scale": {"domain": [0, 400], "range": [1127.3, 681.7], "nice": false, "zero": false}}, "y2": {"field": "hi"}}},
{"data": {"name": "hist"}, "mark": {"type": "tick", "orient": "horizontal", "size": 9, "thickness": 1.5, "color": "#333", "opacity": 1},
 "encoding": {"x": {"field": "c", "type": "quantitative", "scale": {"domain": [-0.7, 0.7], "range": [706.7, 1200], "nice": false, "zero": false}}, "y": {"field": "hi", "type": "quantitative", "scale": {"domain": [0, 400], "range": [1127.3, 681.7], "nice": false, "zero": false}}}},
{"data": {"name": "hist"}, "mark": {"type": "tick", "orient": "horizontal", "size": 9, "thickness": 1.5, "color": "#333", "opacity": 1},
 "encoding": {"x": {"field": "c", "type": "quantitative", "scale": {"domain": [-0.7, 0.7], "range": [706.7, 1200], "nice": false, "zero": false}}, "y": {"field": "lo", "type": "quantitative", "scale": {"domain": [0, 400], "range": [1127.3, 681.7], "nice": false, "zero": false}}}},
{"data": {"name": "gauss"}, "mark": {"type": "line", "color": "#111", "strokeWidth": 3, "interpolate": "monotone"}, "encoding": {}}
]
},
{
"data": {"values": [{}]},
"mark": {"type": "point", "opacity": 0},
"encoding": {
"x": {"datum": 0, "type": "quantitative", "scale": {"domain": [-0.7, 0.7], "range": [706.7, 1200], "nice": false, "zero": false},
 "axis": {"orient": "top", "offset": -681.7, "values": [-0.6, -0.3, 0, 0.3, 0.6], "labels": false, "domain": true, "domainColor": "#333", "domainWidth": 2, "tickSize": -6, "tickWidth": 1.5, "tickColor": "#333", "title": null, "grid": false, "zindex": 1}},
"y": {"datum": 200, "type": "quantitative", "scale": {"domain": [0, 400], "range": [1127.3, 681.7], "nice": false, "zero": false},
 "axis": {"orient": "right", "offset": -62, "values": [0, 100, 200, 300, 400], "labels": false, "domain": true, "domainColor": "#333", "domainWidth": 2, "tickSize": -6, "tickWidth": 1.5, "tickColor": "#333", "title": null, "grid": false, "zindex": 1}}
}
}
]
}
